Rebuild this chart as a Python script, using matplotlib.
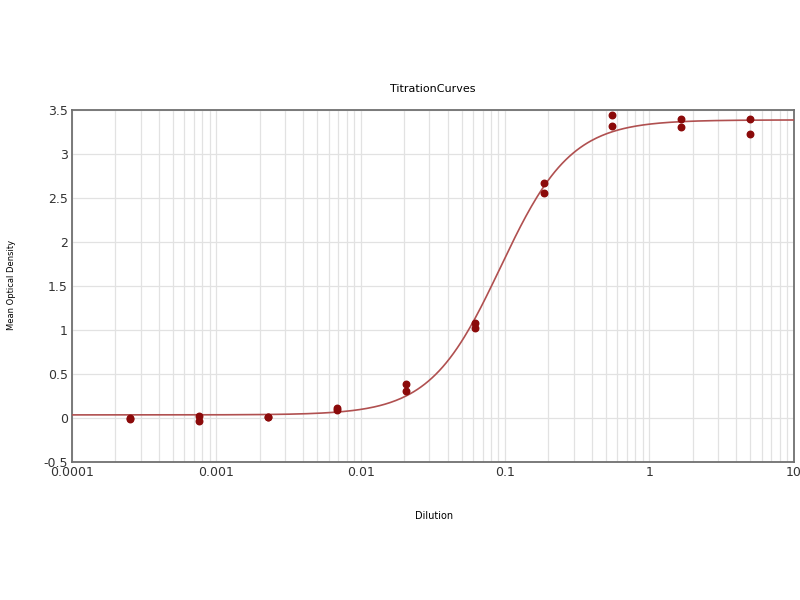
import numpy as np
import matplotlib
matplotlib.use('Agg')
import matplotlib.pyplot as plt
from matplotlib.ticker import FixedLocator, FixedFormatter, LogLocator, NullFormatter

# dilution series (3-fold), two replicates each
dilution = [0.000254, 0.000762, 0.00229, 0.00686, 0.0206, 0.0617, 0.185, 0.556, 1.667, 5.0]
od_rep1 = [-0.01, 0.02, 0.01, 0.11, 0.39, 1.08, 2.67, 3.44, 3.40, 3.40]
od_rep2 = [0.00, -0.03, 0.01, 0.09, 0.31, 1.02, 2.56, 3.32, 3.30, 3.23]

# 4PL fit parameters
bottom = 0.035
top = 3.385
ec50 = 0.093
hill = 1.78

xticks = [0.0001, 0.001, 0.01, 0.1, 1, 10]
xticklabels = ['0.0001', '0.001', '0.01', '0.1', '1', '10']
yticks = [-0.5, 0, 0.5, 1, 1.5, 2, 2.5, 3, 3.5]
yticklabels = ['-0.5', '0', '0.5', '1', '1.5', '2', '2.5', '3', '3.5']

fig = plt.figure(figsize=(8, 6), dpi=100)
ax = fig.add_axes([0.09, 0.23, 0.902, 0.587])

xfit = np.logspace(-4, 1, 400)
yfit = bottom + (top - bottom) / (1 + (ec50 / xfit) ** hill)
ax.plot(xfit, yfit, color='#b05050', lw=1.2, zorder=3)

ax.scatter(dilution, od_rep1, s=22, color='#8b0a0a', zorder=4)
ax.scatter(dilution, od_rep2, s=22, color='#8b0a0a', zorder=4)

ax.set_xscale('log')
ax.set_xlim(0.0001, 10)
ax.set_ylim(-0.5, 3.5)
ax.xaxis.set_major_locator(FixedLocator(xticks))
ax.xaxis.set_major_formatter(FixedFormatter(xticklabels))
ax.xaxis.set_minor_locator(LogLocator(base=10, subs=np.arange(2, 10), numticks=20))
ax.xaxis.set_minor_formatter(NullFormatter())
ax.yaxis.set_major_locator(FixedLocator(yticks))
ax.yaxis.set_major_formatter(FixedFormatter(yticklabels))

ax.grid(True, which='both', axis='x', color='#e2e2e2', lw=0.9)
ax.grid(True, which='major', axis='y', color='#e2e2e2', lw=0.9)
ax.set_axisbelow(True)

ax.tick_params(which='both', length=0, labelsize=9, colors='#333333', pad=3)
for s in ax.spines.values():
    s.set_color('#707070')
    s.set_linewidth(1.3)

ax.set_title('TitrationCurves', fontsize=8, pad=13)
fig.text(434 / 800, 1 - 516 / 600, 'Dilution', fontsize=7, ha='center', va='center')
fig.text(12 / 800, 1 - 285 / 600, 'Mean Optical Density', fontsize=6,
         rotation=90, ha='center', va='center')

fig.savefig('out.png', dpi=100)
